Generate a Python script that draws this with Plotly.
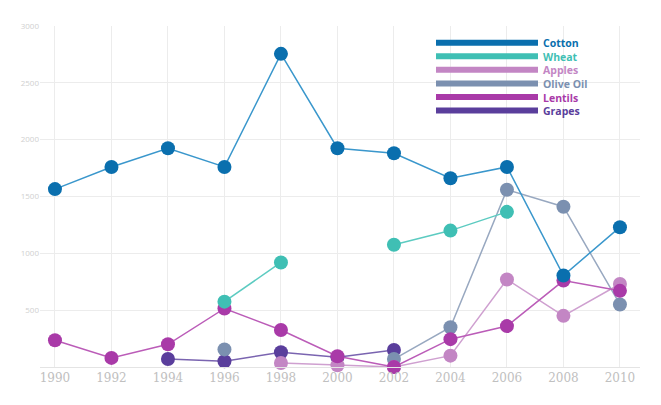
import plotly.graph_objects as go

years = [1990, 1992, 1994, 1996, 1998, 2000, 2002, 2004, 2006, 2008, 2010]
cotton = [1565, 1760, 1925, 1760, 2755, 1925, 1880, 1660, 1760, 805, 1230]
wheat = [None, None, None, 575, 920, None, 1075, 1200, 1365, None, None]
apples = [None, None, None, None, 35, 15, 0, 100, 770, 450, 730]
olive_oil = [None, None, None, 155, None, None, 70, 350, 1560, 1410, 550]
lentils = [235, 80, 200, 515, 325, 95, 0, 245, 360, 760, 670]
grapes = [None, None, 70, 50, 130, 85, 150, None, None, None, None]

series_names = ["Cotton", "Wheat", "Apples", "Olive Oil", "Lentils", "Grapes"]
series_values = [cotton, wheat, apples, olive_oil, lentils, grapes]
marker_colors = ["#0a6fae", "#3fbfb4", "#c386c4", "#7b90b0", "#a93aa8", "#5a3e9c"]
line_colors = ["#3a97cc", "#5ccbc1", "#cfa0d0", "#98a8c0", "#bb5cb8", "#7a64b0"]

y_ticks = [0, 500, 1000, 1500, 2000, 2500, 3000]
y_tick_labels = ["", "500", "1000", "1500", "2000", "2500", "3000"]

fig = go.Figure()
draw_order = [5, 3, 2, 4, 1, 0]
for i in draw_order:
    fig.add_trace(go.Scatter(
        x=years, y=series_values[i], name=series_names[i], mode="lines+markers",
        line=dict(color=line_colors[i], width=1.5),
        marker=dict(color=marker_colors[i], size=14),
        connectgaps=False, cliponaxis=False, showlegend=False,
    ))

# custom legend: swatch lines + one multi-line coloured text block
font_size = 10.5
step = font_size * 1.3 / 343.0
top = 0.951
ys = [top - k * step for k in range(len(series_names))]
for yy, col in zip(ys, marker_colors):
    fig.add_shape(type="line", xref="paper", yref="paper",
                  x0=0.66, x1=0.83, y0=yy, y1=yy,
                  line=dict(color=col, width=6))
legend_text = "<br>".join(
    "<span style='color:%s'><b>%s</b></span>" % (c, n)
    for n, c in zip(series_names, marker_colors))
fig.add_annotation(xref="paper", yref="paper", x=0.835, y=sum(ys) / len(ys),
                   text=legend_text, showarrow=False, align="left",
                   xanchor="left", yanchor="middle",
                   font=dict(family="Open Sans", size=font_size))

fig.update_layout(
    width=645, height=389,
    margin=dict(l=32, r=13, t=17, b=29),
    paper_bgcolor="white", plot_bgcolor="white",
    font=dict(family="Open Sans"),
    xaxis=dict(range=[1989.47, 2010.71], tickvals=years,
               ticktext=[str(y) for y in years],
               showgrid=True, gridcolor="#ececec", gridwidth=1,
               zeroline=False, showline=True, linecolor="#e4e4e4",
               tickfont=dict(family="DejaVu Serif", size=12, color="#c0c0c0")),
    yaxis=dict(range=[0, 3000], tickvals=y_ticks, ticktext=y_tick_labels,
               showgrid=True, gridcolor="#ececec", gridwidth=1,
               zeroline=False, showline=False,
               tickfont=dict(size=8, color="#d0d0d0")),
)

fig.write_html("out.html")
